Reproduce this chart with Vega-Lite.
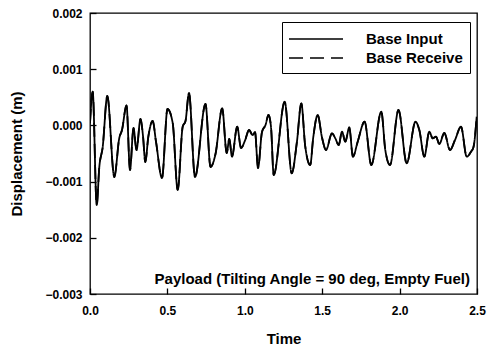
{
  "$schema": "https://vega.github.io/schema/vega-lite/v6.json",
  "width": 387,
  "height": 281,
  "autosize": {"type": "none"},
  "padding": {"left": 90, "top": 13, "right": 17, "bottom": 59},
  "background": "white",
  "config": {
    "font": "Liberation Sans",
    "view": {"stroke": "black", "strokeWidth": 1.3},
    "axis": {
      "grid": false,
      "zindex": 1,
      "domain": false,
      "offset": -6,
      "tickColor": "black",
      "tickSize": 6,
      "tickWidth": 1.3,
      "labelColor": "black",
      "labelFont": "Liberation Sans",
      "labelFontWeight": "bold",
      "labelFontSize": 12,
      "titleColor": "black",
      "titleFont": "Liberation Sans",
      "titleFontWeight": "bold",
      "titleFontSize": 15
    }
  },
  "layer": [
    {
      "data": {
        "values": [
          {"t": 0.0, "Base Input": 0.00004, "Base Receive": 0.00004},
          {"t": 0.0174, "Base Input": 0.0006, "Base Receive": 0.0006},
          {"t": 0.0433, "Base Input": -0.001416, "Base Receive": -0.001416},
          {"t": 0.0601, "Base Input": -0.00074, "Base Receive": -0.00074},
          {"t": 0.082, "Base Input": -0.000384, "Base Receive": -0.000384},
          {"t": 0.1118, "Base Input": 0.000523, "Base Receive": 0.000523},
          {"t": 0.157, "Base Input": -0.000918, "Base Receive": -0.000918},
          {"t": 0.1893, "Base Input": -0.000224, "Base Receive": -0.000224},
          {"t": 0.2067, "Base Input": -0.000082, "Base Receive": -0.000082},
          {"t": 0.2358, "Base Input": 0.000354, "Base Receive": 0.000354},
          {"t": 0.2584, "Base Input": -0.000794, "Base Receive": -0.000794},
          {"t": 0.281, "Base Input": -0.000046, "Base Receive": -0.000046},
          {"t": 0.3004, "Base Input": -0.000438, "Base Receive": -0.000438},
          {"t": 0.3262, "Base Input": 0.000114, "Base Receive": 0.000114},
          {"t": 0.3424, "Base Input": -0.000189, "Base Receive": -0.000189},
          {"t": 0.3572, "Base Input": -0.000651, "Base Receive": -0.000651},
          {"t": 0.3766, "Base Input": -0.000206, "Base Receive": -0.000206},
          {"t": 0.405, "Base Input": 0.000078, "Base Receive": 0.000078},
          {"t": 0.4264, "Base Input": -0.00029, "Base Receive": -0.00029},
          {"t": 0.4651, "Base Input": -0.000936, "Base Receive": -0.000936},
          {"t": 0.5006, "Base Input": 0.000292, "Base Receive": 0.000292},
          {"t": 0.5342, "Base Input": 0.000043, "Base Receive": 0.000043},
          {"t": 0.5665, "Base Input": -0.001149, "Base Receive": -0.001149},
          {"t": 0.5988, "Base Input": -0.000023, "Base Receive": -0.000023},
          {"t": 0.6169, "Base Input": 0.000078, "Base Receive": 0.000078},
          {"t": 0.6395, "Base Input": 0.000577, "Base Receive": 0.000577},
          {"t": 0.6783, "Base Input": -0.000918, "Base Receive": -0.000918},
          {"t": 0.7461, "Base Input": 0.000381, "Base Receive": 0.000381},
          {"t": 0.7784, "Base Input": -0.00074, "Base Receive": -0.00074},
          {"t": 0.8107, "Base Input": -0.000509, "Base Receive": -0.000509},
          {"t": 0.854, "Base Input": 0.000304, "Base Receive": 0.000304},
          {"t": 0.8831, "Base Input": -0.000491, "Base Receive": -0.000491},
          {"t": 0.8999, "Base Input": -0.000242, "Base Receive": -0.000242},
          {"t": 0.9173, "Base Input": -0.000557, "Base Receive": -0.000557},
          {"t": 0.9509, "Base Input": -0.000023, "Base Receive": -0.000023},
          {"t": 0.9755, "Base Input": -0.000402, "Base Receive": -0.000402},
          {"t": 1.0026, "Base Input": -0.00026, "Base Receive": -0.00026},
          {"t": 1.0271, "Base Input": -0.000082, "Base Receive": -0.000082},
          {"t": 1.051, "Base Input": -0.000171, "Base Receive": -0.000171},
          {"t": 1.0659, "Base Input": -0.000117, "Base Receive": -0.000117},
          {"t": 1.0853, "Base Input": -0.000758, "Base Receive": -0.000758},
          {"t": 1.1111, "Base Input": -0.000117, "Base Receive": -0.000117},
          {"t": 1.1337, "Base Input": 0.000007, "Base Receive": 0.000007},
          {"t": 1.1531, "Base Input": 0.000185, "Base Receive": 0.000185},
          {"t": 1.1693, "Base Input": -0.000028, "Base Receive": -0.000028},
          {"t": 1.1867, "Base Input": -0.000883, "Base Receive": -0.000883},
          {"t": 1.2578, "Base Input": 0.000422, "Base Receive": 0.000422},
          {"t": 1.303, "Base Input": -0.000852, "Base Receive": -0.000852},
          {"t": 1.3366, "Base Input": -0.000295, "Base Receive": -0.000295},
          {"t": 1.365, "Base Input": 0.000393, "Base Receive": 0.000393},
          {"t": 1.3902, "Base Input": -0.000367, "Base Receive": -0.000367},
          {"t": 1.4225, "Base Input": -0.000705, "Base Receive": -0.000705},
          {"t": 1.4425, "Base Input": -0.000206, "Base Receive": -0.000206},
          {"t": 1.4709, "Base Input": 0.000185, "Base Receive": 0.000185},
          {"t": 1.4987, "Base Input": -0.000215, "Base Receive": -0.000215},
          {"t": 1.5245, "Base Input": -0.000438, "Base Receive": -0.000438},
          {"t": 1.5633, "Base Input": -0.000141, "Base Receive": -0.000141},
          {"t": 1.5846, "Base Input": -0.00023, "Base Receive": -0.00023},
          {"t": 1.6066, "Base Input": -0.000349, "Base Receive": -0.000349},
          {"t": 1.6279, "Base Input": -0.000112, "Base Receive": -0.000112},
          {"t": 1.6492, "Base Input": -0.00029, "Base Receive": -0.00029},
          {"t": 1.6751, "Base Input": -0.000037, "Base Receive": -0.000037},
          {"t": 1.6983, "Base Input": -0.000557, "Base Receive": -0.000557},
          {"t": 1.7293, "Base Input": -0.00029, "Base Receive": -0.00029},
          {"t": 1.7739, "Base Input": 0.000066, "Base Receive": 0.000066},
          {"t": 1.8172, "Base Input": -0.000705, "Base Receive": -0.000705},
          {"t": 1.8818, "Base Input": 0.000244, "Base Receive": 0.000244},
          {"t": 1.9076, "Base Input": -0.000438, "Base Receive": -0.000438},
          {"t": 1.938, "Base Input": -0.000705, "Base Receive": -0.000705},
          {"t": 1.9929, "Base Input": 0.000274, "Base Receive": 0.000274},
          {"t": 2.0459, "Base Input": -0.000674, "Base Receive": -0.000674},
          {"t": 2.1027, "Base Input": 0.000066, "Base Receive": 0.000066},
          {"t": 2.1273, "Base Input": -0.000082, "Base Receive": -0.000082},
          {"t": 2.1596, "Base Input": -0.000557, "Base Receive": -0.000557},
          {"t": 2.1919, "Base Input": -0.000112, "Base Receive": -0.000112},
          {"t": 2.2138, "Base Input": -0.00023, "Base Receive": -0.00023},
          {"t": 2.2351, "Base Input": -0.000201, "Base Receive": -0.000201},
          {"t": 2.2565, "Base Input": -0.000331, "Base Receive": -0.000331},
          {"t": 2.2888, "Base Input": -0.000135, "Base Receive": -0.000135},
          {"t": 2.3256, "Base Input": -0.000438, "Base Receive": -0.000438},
          {"t": 2.3579, "Base Input": -0.00026, "Base Receive": -0.00026},
          {"t": 2.3966, "Base Input": -0.000023, "Base Receive": -0.000023},
          {"t": 2.4335, "Base Input": -0.000557, "Base Receive": -0.000557},
          {"t": 2.4612, "Base Input": -0.000468, "Base Receive": -0.000468},
          {"t": 2.4774, "Base Input": -0.000384, "Base Receive": -0.000384},
          {"t": 2.4981, "Base Input": 0.000155, "Base Receive": 0.000155}
        ]
      },
      "transform": [
        {"fold": ["Base Input", "Base Receive"], "as": ["series", "d"]}
      ],
      "mark": {"type": "line", "color": "black", "strokeWidth": 1.8, "interpolate": "monotone", "clip": true},
      "encoding": {
        "x": {
          "field": "t",
          "type": "quantitative",
          "scale": {"domain": [0, 2.5], "nice": false, "zero": false},
          "axis": {"title": "Time", "values": [0, 0.5, 1, 1.5, 2, 2.5], "format": ".1f", "labelPadding": 11, "titlePadding": 15, "labelFlush": false}
        },
        "y": {
          "field": "d",
          "type": "quantitative",
          "scale": {"domain": [-0.003, 0.002], "nice": false, "zero": false},
          "axis": {"title": "Displacement (m)", "values": [-0.003, -0.002, -0.001, 0, 0.001, 0.002], "format": ".3f", "labelPadding": 8, "titlePadding": 20, "labelFlush": false}
        },
        "strokeDash": {
          "field": "series",
          "type": "nominal",
          "scale": {"domain": ["Base Input", "Base Receive"], "range": [[1, 0], [14, 7]]},
          "legend": {
            "title": null,
            "orient": "none",
            "legendX": 192,
            "legendY": 9,
            "padding": 7,
            "strokeColor": "black",
            "fillColor": "white",
            "cornerRadius": 0,
            "symbolType": "M-3,0L3,0",
            "symbolSize": 324,
            "symbolOffset": 17,
            "symbolStrokeColor": "black",
            "symbolStrokeWidth": 1.4,
            "labelOffset": 40,
            "labelFontSize": 15,
            "labelFontWeight": "bold",
            "labelColor": "black",
            "labelFont": "Liberation Sans",
            "rowPadding": 1
          }
        }
      }
    },
    {
      "data": {"values": [{"t": 2.455, "d": -0.00273, "label": "Payload (Tilting Angle = 90 deg, Empty Fuel)"}]},
      "mark": {"type": "text", "align": "right", "baseline": "middle", "fontWeight": "bold", "fontSize": 15, "font": "Liberation Sans", "color": "black"},
      "encoding": {
        "x": {"field": "t", "type": "quantitative"},
        "y": {"field": "d", "type": "quantitative"},
        "text": {"field": "label"}
      }
    }
  ]
}
